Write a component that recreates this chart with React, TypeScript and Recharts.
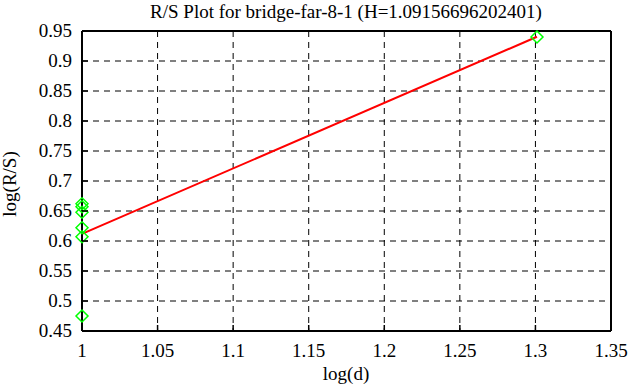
import {
  ComposedChart,
  Scatter,
  Line,
  XAxis,
  YAxis,
  CartesianGrid
} from 'recharts'

// log(d) / log(R/S) samples
const sampleX = [1, 1, 1, 1, 1, 1, 1.30103]
const sampleY = [0.475, 0.607, 0.622, 0.648, 0.657, 0.662, 0.94]

// fitted line endpoints (slope = H)
const fitX = [1, 1.30103]
const fitY = [0.6118, 0.9404]

const xTicks = [1, 1.05, 1.1, 1.15, 1.2, 1.25, 1.3, 1.35]
const yTicks = [0.45, 0.5, 0.55, 0.6, 0.65, 0.7, 0.75, 0.8, 0.85, 0.9, 0.95]

const points = sampleX.map((x, i) => ({ x, y: sampleY[i] }))
const fit = fitX.map((x, i) => ({ x, y: fitY[i] }))

const FONT = '"Liberation Serif", "Times New Roman", serif'
const FS = 19
const TICK_LEN = 6

const Diamond = (props: any) => {
  const { cx, cy } = props
  const r = 6
  return (
    <polygon
      points={`${cx},${cy - r} ${cx + r},${cy} ${cx},${cy + r} ${cx - r},${cy}`}
      fill="none"
      stroke="#00ff00"
      strokeWidth={1.5}
    />
  )
}

const BottomTick = (props: any) => {
  const { x, y, payload } = props
  return (
    <g>
      <line x1={x} y1={y} x2={x} y2={y - TICK_LEN} stroke="#000" strokeWidth={1.5} />
      <text x={x} y={y + 26} textAnchor="middle" fontFamily={FONT} fontSize={FS} fill="#000">
        {payload.value}
      </text>
    </g>
  )
}

const TopTick = (props: any) => {
  const { x, y } = props
  return <line x1={x} y1={y} x2={x} y2={y + TICK_LEN} stroke="#000" strokeWidth={1.5} />
}

const LeftTick = (props: any) => {
  const { x, y, payload } = props
  return (
    <g>
      <line x1={x} y1={y} x2={x + TICK_LEN} y2={y} stroke="#000" strokeWidth={1.5} />
      <text x={x - 10} y={y + 6} textAnchor="end" fontFamily={FONT} fontSize={FS} fill="#000">
        {payload.value}
      </text>
    </g>
  )
}

const RightTick = (props: any) => {
  const { x, y } = props
  return <line x1={x} y1={y} x2={x - TICK_LEN} y2={y} stroke="#000" strokeWidth={1.5} />
}

export default function App() {
  return (
    <div style={{ position: 'absolute', left: 0, top: 0, width: 631, height: 387, background: '#fff' }}>
      <ComposedChart
        width={631}
        height={387}
        margin={{ top: 30, right: 19, bottom: 16, left: 10 }}
      >
        <CartesianGrid
          xAxisId="b"
          yAxisId="l"
          stroke="#000"
          strokeDasharray="6 5"
          strokeWidth={1}
        />
        <XAxis
          xAxisId="b"
          dataKey="x"
          type="number"
          domain={[1, 1.35]}
          ticks={xTicks}
          height={40}
          tickSize={0}
          tickMargin={0}
          tickLine={false}
          axisLine={{ stroke: '#000', strokeWidth: 2 }}
          tick={<BottomTick />}
          interval={0}
        />
        <XAxis
          xAxisId="t"
          orientation="top"
          dataKey="x"
          type="number"
          domain={[1, 1.35]}
          ticks={xTicks}
          height={1}
          tickSize={0}
          tickMargin={0}
          tickLine={false}
          axisLine={{ stroke: '#000', strokeWidth: 2 }}
          tick={<TopTick />}
          interval={0}
        />
        <YAxis
          yAxisId="l"
          dataKey="y"
          type="number"
          domain={[0.45, 0.95]}
          ticks={yTicks}
          width={72}
          tickSize={0}
          tickMargin={0}
          tickLine={false}
          axisLine={{ stroke: '#000', strokeWidth: 2 }}
          tick={<LeftTick />}
          interval={0}
        />
        <YAxis
          yAxisId="r"
          orientation="right"
          dataKey="y"
          type="number"
          domain={[0.45, 0.95]}
          ticks={yTicks}
          width={1}
          tickSize={0}
          tickMargin={0}
          tickLine={false}
          axisLine={{ stroke: '#000', strokeWidth: 2 }}
          tick={<RightTick />}
          interval={0}
        />
        <Line
          xAxisId="b"
          yAxisId="l"
          data={fit}
          dataKey="y"
          type="linear"
          stroke="#ff0000"
          strokeWidth={2}
          dot={false}
          isAnimationActive={false}
        />
        <Scatter
          xAxisId="b"
          yAxisId="l"
          data={points}
          dataKey="y"
          shape={<Diamond />}
          isAnimationActive={false}
        />
      </ComposedChart>
      <div
        style={{
          position: 'absolute',
          left: 0,
          width: 692,
          top: 1,
          textAlign: 'center',
          fontFamily: FONT,
          fontSize: FS,
          lineHeight: '22px'
        }}
      >
        R/S Plot for bridge-far-8-1 (H=1.09156696202401)
      </div>
      <div
        style={{
          position: 'absolute',
          left: 0,
          width: 692,
          top: 363,
          textAlign: 'center',
          fontFamily: FONT,
          fontSize: FS,
          lineHeight: '22px'
        }}
      >
        log(d)
      </div>
      <div
        style={{
          position: 'absolute',
          left: 10,
          top: 184,
          width: 0,
          height: 0
        }}
      >
        <div
          style={{
            position: 'absolute',
            left: 0,
            top: 0,
            transform: 'translate(-50%, -50%) rotate(-90deg)',
            whiteSpace: 'nowrap',
            fontFamily: FONT,
            fontSize: FS,
            lineHeight: '18px'
          }}
        >
          log(R/S)
        </div>
      </div>
    </div>
  )
}
